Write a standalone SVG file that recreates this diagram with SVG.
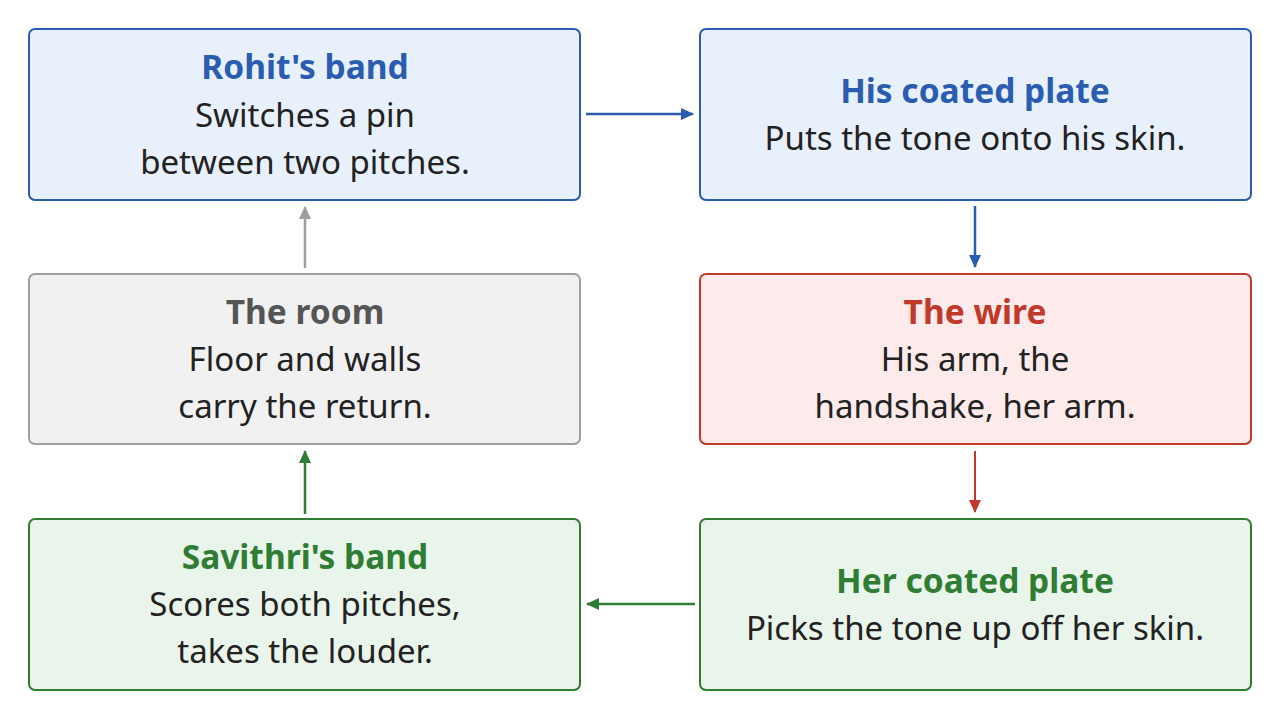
<svg xmlns="http://www.w3.org/2000/svg" width="1280" height="719" viewBox="0 0 1280 719">
<style>
text{font-family:"Noto Sans","Open Sans","DejaVu Sans",sans-serif;text-anchor:middle;font-size:33px;fill:#222}
.t{font-weight:bold;font-size:33.5px}
.box{stroke-width:2}
</style>
<defs>
<marker id="ab" markerWidth="13" markerHeight="12" refX="12" refY="6" orient="auto" markerUnits="userSpaceOnUse" viewBox="0 0 13 12"><path d="M0,0 L13,6 L0,12 z" fill="#2a5db0"/></marker>
<marker id="ar" markerWidth="13" markerHeight="12" refX="12" refY="6" orient="auto" markerUnits="userSpaceOnUse" viewBox="0 0 13 12"><path d="M0,0 L13,6 L0,12 z" fill="#c0392b"/></marker>
<marker id="ag" markerWidth="13" markerHeight="12" refX="12" refY="6" orient="auto" markerUnits="userSpaceOnUse" viewBox="0 0 13 12"><path d="M0,0 L13,6 L0,12 z" fill="#2e7d32"/></marker>
<marker id="ay" markerWidth="13" markerHeight="12" refX="12" refY="6" orient="auto" markerUnits="userSpaceOnUse" viewBox="0 0 13 12"><path d="M0,0 L13,6 L0,12 z" fill="#9e9e9e"/></marker>
</defs>
<rect width="1280" height="719" fill="#fff"/>
<g id="rohit">
<rect class="box" x="29" y="29" width="551" height="171" rx="6" fill="#e8f0fb" stroke="#2a5db0"/>
<text class="t" x="305" y="79" style="fill:#2a5db0">Rohit's band</text>
<text x="305" y="127">Switches a pin</text>
<text x="305" y="174">between two pitches.</text>
</g>
<g id="his-plate">
<rect class="box" x="700" y="29" width="551" height="171" rx="6" fill="#e8f0fb" stroke="#2a5db0"/>
<text class="t" x="975" y="103" style="fill:#2a5db0">His coated plate</text>
<text x="975" y="150">Puts the tone onto his skin.</text>
</g>
<g id="wire">
<rect class="box" x="700" y="274" width="551" height="170" rx="6" fill="#fdeaea" stroke="#c0392b"/>
<text class="t" x="975" y="324" style="fill:#c0392b">The wire</text>
<text x="975" y="371">His arm, the</text>
<text x="975" y="418">handshake, her arm.</text>
</g>
<g id="room">
<rect class="box" x="29" y="274" width="551" height="170" rx="6" fill="#f1f1f1" stroke="#9e9e9e"/>
<text class="t" x="305" y="324" style="fill:#555">The room</text>
<text x="305" y="371">Floor and walls</text>
<text x="305" y="418">carry the return.</text>
</g>
<g id="savithri">
<rect class="box" x="29" y="519" width="551" height="171" rx="6" fill="#e9f4eb" stroke="#2e7d32"/>
<text class="t" x="305" y="569" style="fill:#2e7d32">Savithri's band</text>
<text x="305" y="616">Scores both pitches,</text>
<text x="305" y="663">takes the louder.</text>
</g>
<g id="her-plate">
<rect class="box" x="700" y="519" width="551" height="171" rx="6" fill="#e9f4eb" stroke="#2e7d32"/>
<text class="t" x="975" y="593" style="fill:#2e7d32">Her coated plate</text>
<text x="975" y="640">Picks the tone up off her skin.</text>
</g>
<g id="connectors" fill="none">
<line x1="586" y1="114" x2="693" y2="114" stroke="#2a5db0" stroke-width="2.5" marker-end="url(#ab)"/>
<line x1="975" y1="206" x2="975" y2="267" stroke="#2a5db0" stroke-width="2.5" marker-end="url(#ab)"/>
<line x1="975" y1="451" x2="975" y2="512" stroke="#c0392b" stroke-width="2" marker-end="url(#ar)"/>
<line x1="695" y1="604" x2="587" y2="604" stroke="#2e7d32" stroke-width="2.5" marker-end="url(#ag)"/>
<line x1="305" y1="514" x2="305" y2="451" stroke="#2e7d32" stroke-width="2.5" marker-end="url(#ag)"/>
<line x1="305" y1="268" x2="305" y2="207" stroke="#9e9e9e" stroke-width="2.5" marker-end="url(#ay)"/>
</g>
</svg>
